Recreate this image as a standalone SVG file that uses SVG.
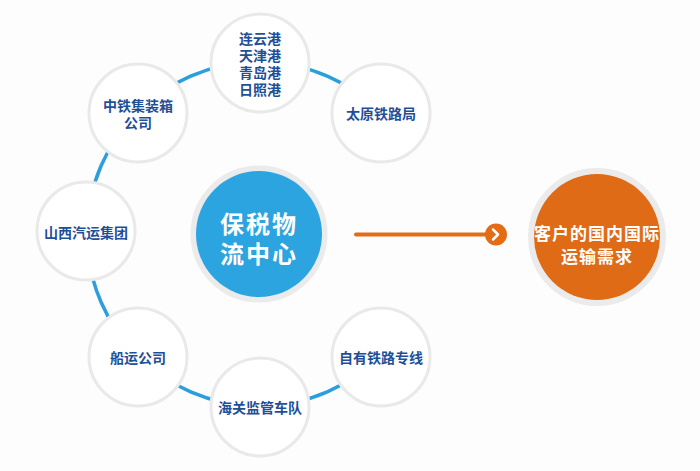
<svg xmlns="http://www.w3.org/2000/svg" width="700" height="471" viewBox="0 0 700 471">
<style>
.sat{fill:#ffffff;stroke:#e9e9e9;stroke-width:3}
.st{font-family:"Noto Sans CJK SC","Noto Sans",sans-serif;font-weight:700;font-size:14px;fill:#1f4f98;text-anchor:middle;dominant-baseline:central}
.big{font-family:"Noto Sans CJK SC","Noto Sans",sans-serif;font-weight:700;fill:#ffffff;text-anchor:middle;dominant-baseline:central}
.ring{fill:none;stroke:#ebebeb;stroke-width:6}
</style>
<rect width="700" height="471" fill="#fdfdfd"/>
<g id="connectors">
<path d="M380.6,112.4 A172,172 0 1 0 380.6,355.6" fill="none" stroke="#2b9fdc" stroke-width="3.5"/>
<line x1="356" y1="234.5" x2="488" y2="234.5" stroke="#e36c14" stroke-width="4" stroke-linecap="round"/>
<circle cx="496" cy="234.5" r="11" fill="#e36c14"/>
<path d="M493,229.5 L498,234.5 L493,239.5" fill="none" stroke="#ffffff" stroke-width="2.5" stroke-linecap="round" stroke-linejoin="round"/>
</g>
<g id="center">
<circle cx="259" cy="234" r="65.5" class="ring"/>
<circle cx="259" cy="234" r="63" fill="#2ba4e0"/>
<text class="big" x="259" y="222" font-size="24" letter-spacing="2">保税物</text>
<text class="big" x="259" y="252" font-size="24" letter-spacing="2">流中心</text>
</g>
<g id="target">
<circle cx="597" cy="237" r="66" class="ring"/>
<circle cx="597" cy="237" r="63" fill="#e06b16"/>
<text class="big" x="597" y="232" font-size="17" letter-spacing="1">客户的国内国际</text>
<text class="big" x="597" y="255" font-size="17" letter-spacing="1">运输需求</text>
</g>
<g id="ports">
<circle cx="260" cy="63" r="49" class="sat"/>
<text class="st" x="260" y="38">连云港</text>
<text class="st" x="260" y="55">天津港</text>
<text class="st" x="260" y="72">青岛港</text>
<text class="st" x="260" y="89">日照港</text>
</g>
<g id="taiyuan">
<circle cx="381" cy="113" r="49" class="sat"/>
<text class="st" x="381" y="113">太原铁路局</text>
</g>
<g id="zhongtie">
<circle cx="138" cy="113" r="49" class="sat"/>
<text class="st" x="138" y="105">中铁集装箱</text>
<text class="st" x="138" y="122">公司</text>
</g>
<g id="shanxi">
<circle cx="86" cy="231" r="49" class="sat"/>
<text class="st" x="86" y="232">山西汽运集团</text>
</g>
<g id="shipping">
<circle cx="138" cy="357" r="49" class="sat"/>
<text class="st" x="138" y="357">船运公司</text>
</g>
<g id="customs">
<circle cx="260" cy="407" r="49" class="sat"/>
<text class="st" x="260" y="407">海关监管车队</text>
</g>
<g id="railway">
<circle cx="381" cy="357" r="49" class="sat"/>
<text class="st" x="381" y="357">自有铁路专线</text>
</g>
</svg>
